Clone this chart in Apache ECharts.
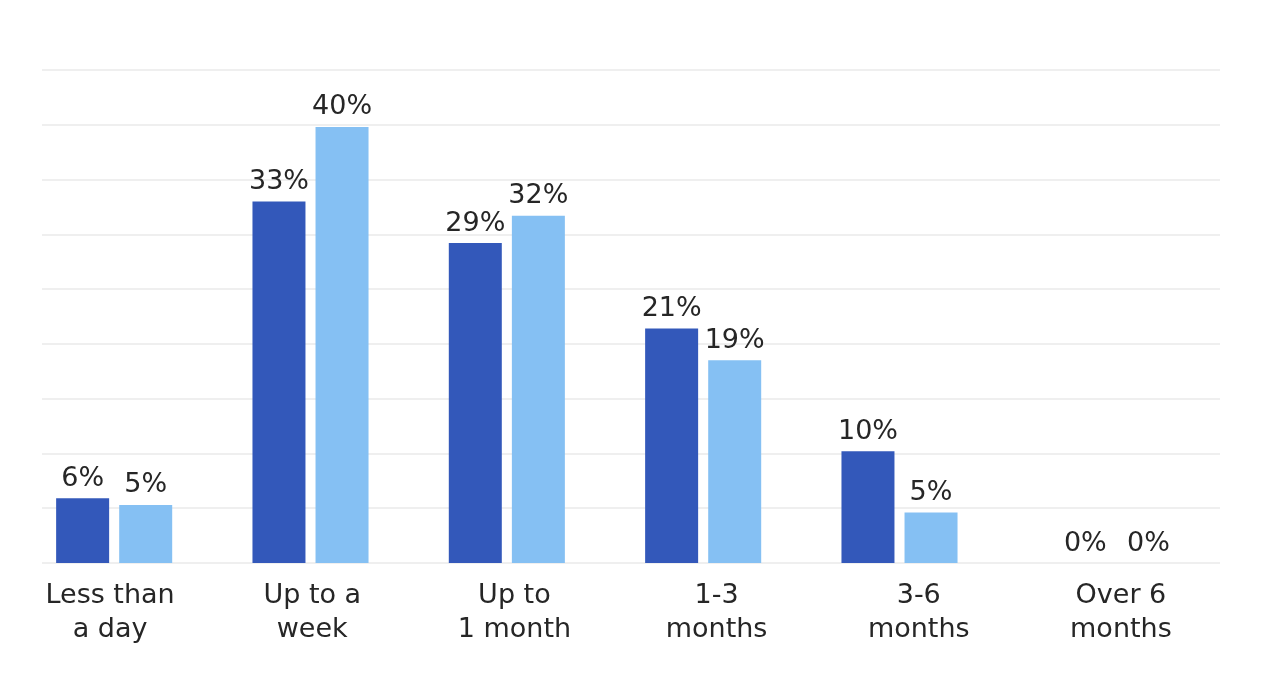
<!DOCTYPE html>
<html>
<head>
<meta charset="utf-8">
<script src="https://cdn.jsdelivr.net/npm/echarts@6/dist/echarts.min.js"></script>
<style>
  html, body { margin: 0; padding: 0; background: #fff; }
  #chart { width: 1264px; height: 684px; }
</style>
</head>
<body>
<div id="chart"></div>
<script>
var categories = ['Less than\na day', 'Up to a\nweek', 'Up to\n1 month', '1-3\nmonths', '3-6\nmonths', 'Over 6\nmonths'];
// bar heights, labels show them rounded
var seriesA = [5.9, 33.0, 29.2, 21.4, 10.2, 0];
var seriesB = [5.3, 39.8, 31.7, 18.5, 4.6, 0];
var yMax = 45;
var yStep = 5;

var font = '"DejaVu Sans", sans-serif';

var myChart = echarts.init(document.getElementById('chart'));

function pct(p) {
    return Math.round(p.value) + '%';
}

// empty bars: the source nudges their labels a bit to the right
function toItems(arr) {
    return arr.map(function (v) {
        if (v === 0) {
            return {value: v, label: {offset: [21, 0]}};
        }
        return v;
    });
}

// grid 0 = bars, grid 1 = horizontal lines, grid 2 = category labels
var option = {
    animation: false,
    grid: [
        {left: 16, width: 1178, top: 70, height: 493},
        {left: 42, width: 1178, top: 70, height: 493},
        {left: 9, width: 1213, top: 70, height: 493}
    ],
    xAxis: [
        {gridIndex: 0, type: 'category', data: categories, show: false},
        {gridIndex: 1, type: 'category', data: categories, show: false},
        {
            gridIndex: 2, type: 'category', data: categories,
            axisLine: {show: false}, axisTick: {show: false},
            axisLabel: {
                margin: 16, fontSize: 27, lineHeight: 34,
                color: '#262626', fontFamily: font
            }
        }
    ],
    yAxis: [
        {gridIndex: 0, type: 'value', min: 0, max: yMax, show: false},
        {
            gridIndex: 1, type: 'value', min: 0, max: yMax, interval: yStep,
            axisLine: {show: false}, axisTick: {show: false}, axisLabel: {show: false},
            splitLine: {lineStyle: {color: '#efefef', width: 2}}
        },
        {gridIndex: 2, type: 'value', min: 0, max: yMax, show: false}
    ],
    series: [
        {
            type: 'bar', xAxisIndex: 0, yAxisIndex: 0,
            data: toItems(seriesA), barWidth: 53, barGap: '19%',
            itemStyle: {color: '#3358ba'},
            label: {
                show: true, position: 'top', distance: 6,
                formatter: pct, fontSize: 27, color: '#262626', fontFamily: font
            }
        },
        {
            type: 'bar', xAxisIndex: 0, yAxisIndex: 0,
            data: toItems(seriesB), barWidth: 53, barGap: '19%',
            itemStyle: {color: '#85c0f3'},
            label: {
                show: true, position: 'top', distance: 6,
                formatter: pct, fontSize: 27, color: '#262626', fontFamily: font
            }
        }
    ]
};
myChart.setOption(option);
</script>
</body>
</html>
